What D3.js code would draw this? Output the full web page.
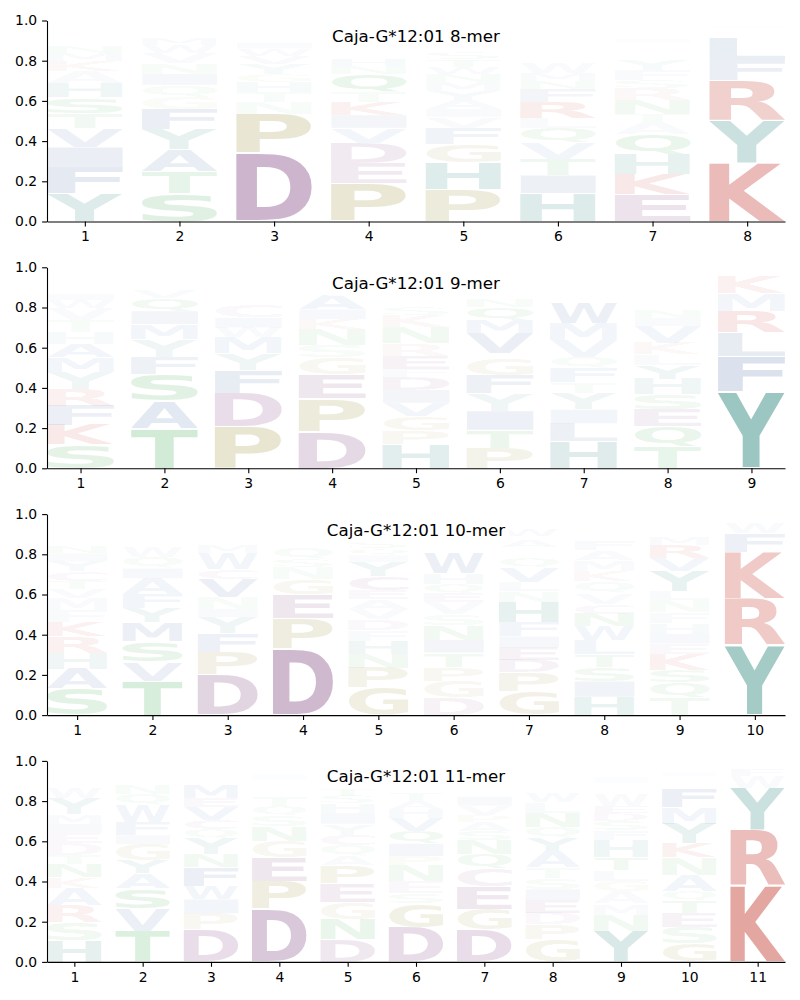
<!DOCTYPE html>
<html>
<head>
<meta charset="utf-8">
<script src="https://cdn.jsdelivr.net/npm/d3@7"></script>
<style>
  body { margin: 0; background: #fff; }
  svg { display: block; }
</style>
</head>
<body>
<svg id="chart" width="800" height="1000"></svg>
<script>
// panel titles
const titles = ['Caja-G*12:01 8-mer', 'Caja-G*12:01 9-mer', 'Caja-G*12:01 10-mer', 'Caja-G*12:01 11-mer'];

// letter heights per position, listed bottom -> top
const logo8 = [
  [['Y',.14],['F',.13],['I',.10],['V',.095],['T',.075],['S',.078],['H',.07],['A',.06],['K',.05],['M',.04],['N',.035],['W',.03],['R',.025],['Q',.02],['E',.015],['C',.012],['G',.02]],
  [['S',.14],['T',.11],['A',.11],['Y',.10],['F',.10],['G',.06],['Q',.06],['I',.055],['N',.055],['V',.05],['W',.04],['M',.035],['K',.025],['H',.02],['L',.015],['R',.012]],
  [['D',.34],['P',.195],['N',.06],['T',.05],['H',.05],['G',.04],['Y',.05],['V',.04],['W',.035],['I',.03],['F',.025],['S',.02],['E',.02],['Q',.015],['K',.012],['M',.01]],
  [['P',.19],['E',.10],['D',.10],['V',.075],['I',.065],['K',.065],['T',.05],['Q',.09],['N',.04],['H',.035],['L',.03],['F',.03],['A',.025],['S',.02],['G',.02],['Y',.015],['M',.01],['W',.02],['R',.015]],
  [['P',.16],['H',.135],['G',.09],['F',.08],['V',.055],['I',.04],['A',.045],['Y',.045],['M',.045],['N',.04],['W',.035],['T',.035],['S',.035],['Q',.03],['E',.03],['D',.025],['K',.025],['L',.02],['R',.02],['C',.01]],
  [['H',.14],['I',.09],['T',.08],['V',.08],['Q',.075],['L',.05],['R',.08],['F',.065],['N',.04],['M',.04],['W',.05],['Y',.03],['S',.03],['A',.025],['K',.025],['E',.02],['G',.02],['D',.015],['P',.01],['C',.015]],
  [['E',.135],['K',.10],['H',.10],['Q',.10],['A',.06],['T',.04],['N',.07],['R',.06],['S',.04],['F',.05],['Y',.05],['L',.03],['V',.03],['M',.025],['I',.02],['G',.02],['D',.015],['W',.01],['P',.02],['C',.01]],
  [['K',.29],['Y',.21],['R',.20],['F',.10],['L',.11],['W',.03],['M',.02],['I',.015],['V',.01]]
];

const logo9 = [
  [['S',.117],['K',.097],['F',.097],['R',.083],['Y',.083],['M',.075],['A',.065],['H',.06],['T',.06],['V',.06],['W',.04],['I',.03],['L',.03],['G',.02],['N',.02],['Q',.015],['E',.01],['D',.015],['C',.01]],
  [['T',.197],['A',.137],['S',.133],['F',.087],['Y',.088],['M',.075],['I',.065],['Q',.065],['V',.04],['H',.025],['G',.03],['L',.025],['N',.02],['W',.01]],
  [['P',.21],['D',.165],['F',.115],['Y',.08],['M',.08],['W',.05],['I',.05],['C',.06],['V',.03],['E',.025],['G',.025],['H',.02],['S',.02],['Q',.02],['N',.015],['T',.01],['A',.015]],
  [['D',.183],['P',.165],['E',.12],['G',.083],['S',.06],['N',.08],['K',.05],['I',.05],['A',.075],['M',.02],['Q',.02],['T',.02],['H',.015],['R',.015],['Y',.01],['V',.02],['L',.01]],
  [['H',.12],['P',.07],['G',.07],['V',.065],['I',.065],['D',.065],['F',.04],['E',.065],['R',.06],['N',.08],['K',.06],['S',.04],['T',.03],['Q',.03],['A',.03],['L',.025],['M',.02],['Y',.02],['W',.015],['C',.01]],
  [['P',.10],['T',.09],['I',.095],['Y',.087],['F',.09],['G',.08],['L',.03],['V',.10],['M',.065],['Q',.065],['N',.04],['S',.03],['H',.025],['A',.02],['W',.02],['K',.015],['E',.015],['D',.01]],
  [['H',.133],['L',.09],['I',.07],['Y',.08],['T',.055],['F',.07],['Q',.055],['V',.083],['M',.083],['W',.10],['N',.03],['S',.025],['A',.02],['K',.02],['R',.015],['G',.01],['E',.02],['P',.015],['C',.01]],
  [['T',.108],['Q',.10],['E',.083],['S',.075],['H',.078],['Y',.067],['L',.055],['K',.058],['V',.083],['I',.042],['N',.042],['R',.03],['M',.03],['A',.03],['F',.025],['G',.02],['D',.015],['W',.01],['P',.02],['C',.015]],
  [['Y',.383],['F',.175],['L',.117],['R',.108],['M',.088],['K',.088],['W',.02],['I',.01]]
];

const logo10 = [
  [['S',.13],['A',.10],['H',.08],['R',.08],['K',.07],['F',.06],['M',.06],['V',.045],['T',.04],['C',.05],['Y',.05],['I',.04],['N',.035],['L',.03],['Q',.025],['W',.025],['E',.02],['G',.02],['D',.015],['P',.01]],
  [['T',.17],['V',.095],['S',.10],['M',.095],['Y',.07],['F',.07],['A',.08],['I',.05],['Q',.055],['W',.05],['N',.03],['L',.03],['H',.025],['G',.025],['C',.02],['K',.015],['E',.01]],
  [['D',.20],['P',.113],['F',.095],['Y',.08],['I',.04],['N',.06],['V',.09],['C',.05],['W',.08],['M',.04],['Q',.03],['S',.03],['E',.025],['A',.02],['G',.015],['T',.01]],
  [['D',.33],['P',.15],['E',.12],['G',.075],['N',.06],['S',.04],['Q',.055],['T',.03],['H',.03],['V',.025],['A',.02],['L',.02],['K',.015],['I',.01]],
  [['G',.135],['P',.10],['N',.07],['H',.063],['F',.055],['D',.053],['V',.05],['A',.05],['E',.045],['C',.07],['Y',.07],['I',.035],['Q',.035],['S',.035],['T',.025],['K',.025],['L',.02],['M',.02],['W',.015],['R',.01]],
  [['D',.087],['G',.083],['P',.07],['T',.07],['I',.065],['N',.07],['S',.055],['V',.06],['E',.045],['Q',.045],['H',.055],['W',.10],['K',.03],['A',.03],['F',.025],['L',.02],['Y',.015],['R',.01],['M',.03],['C',.02]],
  [['G',.116],['P',.095],['D',.063],['E',.063],['I',.055],['F',.07],['H',.10],['N',.055],['L',.045],['V',.07],['Q',.045],['S',.03],['T',.03],['A',.035],['Y',.02],['W',.035],['K',.015],['M',.015],['R',.01],['C',.02]],
  [['H',.09],['I',.078],['S',.07],['T',.063],['L',.07],['W',.07],['N',.063],['C',.05],['V',.055],['Q',.055],['K',.05],['M',.055],['A',.05],['F',.045],['Y',.03],['G',.025],['E',.02],['D',.02],['R',.015],['P',.01]],
  [['T',.087],['Q',.075],['S',.063],['K',.08],['E',.05],['I',.05],['H',.053],['F',.055],['N',.06],['L',.045],['Y',.10],['V',.065],['R',.065],['M',.04],['A',.03],['W',.025],['G',.02],['D',.015],['P',.01]],
  [['Y',.35],['R',.23],['K',.23],['F',.095],['W',.05],['L',.02],['M',.01]]
];

const logo11 = [
  [['H',.108],['S',.088],['R',.083],['A',.088],['K',.055],['N',.063],['T',.046],['D',.06],['E',.05],['I',.046],['M',.046],['Y',.08],['W',.053],['Q',.03],['F',.03],['L',.025],['V',.02],['G',.015],['P',.01]],
  [['T',.154],['V',.113],['S',.10],['A',.075],['Y',.063],['G',.08],['I',.046],['F',.063],['W',.088],['Q',.055],['N',.046],['M',.03],['L',.025],['H',.02],['E',.015],['K',.01]],
  [['D',.163],['P',.078],['I',.07],['W',.065],['F',.096],['N',.063],['Y',.08],['Q',.046],['C',.046],['V',.063],['E',.046],['M',.063],['S',.03],['A',.02],['G',.015],['H',.01],['T',.02],['K',.015]],
  [['D',.262],['P',.14],['E',.12],['G',.08],['N',.075],['S',.053],['Q',.046],['T',.046],['H',.03],['A',.03],['V',.025],['I',.025],['K',.02],['L',.015],['Y',.01]],
  [['D',.113],['N',.10],['G',.086],['E',.09],['P',.09],['A',.046],['Q',.055],['C',.053],['Y',.055],['I',.053],['H',.046],['S',.04],['T',.035],['V',.03],['F',.025],['K',.025],['L',.02],['M',.015],['R',.01]],
  [['D',.17],['G',.12],['S',.05],['E',.06],['N',.08],['P',.046],['I',.063],['Q',.063],['V',.063],['H',.046],['A',.04],['T',.04],['F',.03],['L',.03],['Y',.025],['K',.02],['M',.02],['R',.015],['W',.01]],
  [['D',.163],['G',.10],['E',.113],['C',.088],['Q',.07],['N',.07],['S',.045],['A',.045],['P',.036],['V',.046],['I',.046],['T',.03],['H',.03],['L',.025],['F',.02],['K',.02],['Y',.015],['R',.01],['W',.015]],
  [['G',.113],['P',.073],['D',.058],['E',.063],['I',.055],['S',.055],['T',.055],['A',.08],['Y',.063],['Q',.055],['N',.071],['L',.055],['W',.046],['V',.03],['H',.025],['F',.025],['K',.02],['M',.015],['R',.01],['C',.02]],
  [['Y',.154],['N',.08],['M',.055],['A',.06],['G',.053],['L',.055],['T',.063],['H',.088],['F',.046],['S',.046],['D',.038],['E',.035],['W',.058],['K',.03],['Q',.03],['I',.025],['V',.02],['R',.015],['P',.01],['C',.02]],
  [['G',.09],['S',.083],['E',.07],['T',.063],['Q',.046],['A',.08],['N',.088],['K',.071],['Y',.096],['M',.08],['F',.096],['R',.03],['H',.03],['I',.025],['L',.02],['D',.015],['V',.01]],
  [['K',.378],['R',.277],['Y',.21],['W',.06],['F',.035],['L',.02],['M',.01]]
];

const panels = [logo8, logo9, logo10, logo11];

// colour groups
const purple = 'rgb(120,60,120)', olive = 'rgb(150,140,50)', red = 'rgb(190,40,30)',
      teal = 'rgb(20,120,110)', blue = 'rgb(60,100,160)', green = 'rgb(40,160,60)';
const aaColor = {
  D: purple, E: purple, C: purple,
  P: olive, G: olive,
  K: red, R: red,
  Y: teal, H: teal,
  A: blue, V: blue, L: blue, I: blue, M: blue, F: blue, W: blue,
  S: green, T: green, N: green, Q: green
};
// small letters fade out almost completely
const alpha = d3.scaleLinear().domain([0.015, 0.4]).range([0.005, 0.44]).clamp(true);

const svg = d3.select('#chart');
const left = 47, right = 785, top0 = 20.5, step = 246.8, ph = 201;
const letterFont = "'DejaVu Sans', sans-serif";

// ink extents of each glyph, measured once on a canvas
const ctx = document.createElement('canvas').getContext('2d');
ctx.font = `bold 100px ${letterFont}`;
const ink = {};
Object.keys(aaColor).forEach(aa => {
  const m = ctx.measureText(aa);
  ink[aa] = { l: m.actualBoundingBoxLeft, r: m.actualBoundingBoxRight,
              a: m.actualBoundingBoxAscent, d: m.actualBoundingBoxDescent };
});

panels.forEach((cols, i) => {
  const n = cols.length;
  const g = svg.append('g').attr('transform', `translate(0,${top0 + i * step})`);
  const x = d3.scaleLinear().domain([0.6, n + 0.4]).range([left, right]);
  const y = d3.scaleLinear().domain([0, 1]).range([ph, 0]);

  cols.forEach((col, j) => {
    let floor = 0;
    col.forEach(([aa, v]) => {
      const k = ink[aa];
      const x0 = x(j + 1 - 0.4), x1 = x(j + 1 + 0.4);
      const yTop = y(floor + v - v * 0.015), yBot = y(floor + v * 0.015);
      const sx = (x1 - x0) / (k.l + k.r), sy = (yBot - yTop) / (k.a + k.d);
      g.append('text')
        .attr('font-family', letterFont)
        .attr('font-weight', 'bold')
        .attr('font-size', 100)
        .attr('transform', `translate(${x0},${yTop}) scale(${sx},${sy}) translate(${k.l},${k.a})`)
        .attr('fill', aaColor[aa])
        .attr('fill-opacity', alpha(v))
        .text(aa);
      floor += v;
    });
  });

  // title with white box behind it
  const t = g.append('text')
    .attr('x', (left + right) / 2)
    .attr('y', 21.5)
    .attr('text-anchor', 'middle')
    .attr('font-family', "'DejaVu Sans', sans-serif")
    .attr('font-size', 16.67)
    .attr('fill', '#000')
    .text(titles[i]);
  const bb = t.node().getBBox();
  g.insert('rect', () => t.node())
    .attr('x', bb.x - 4).attr('y', bb.y - 3)
    .attr('width', bb.width + 8).attr('height', bb.height + 6)
    .attr('fill', '#fff');

  const yAxis = g.append('g')
    .attr('transform', `translate(${left},0)`)
    .call(d3.axisLeft(y).tickValues([0, .2, .4, .6, .8, 1]).tickFormat(d3.format('.1f'))
      .tickSize(4.9).tickPadding(4.9).tickSizeOuter(0));
  const xAxis = g.append('g')
    .attr('transform', `translate(0,${ph})`)
    .call(d3.axisBottom(x).tickValues(d3.range(1, n + 1)).tickFormat(d3.format('d'))
      .tickSize(4.9).tickPadding(4.9).tickSizeOuter(0));
  [yAxis, xAxis].forEach(a => {
    a.attr('font-family', "'DejaVu Sans', sans-serif").attr('font-size', 13.9);
    a.selectAll('path, line').attr('stroke', '#000').attr('stroke-width', 1.1);
    a.selectAll('text').attr('fill', '#000');
  });
});
</script>
</body>
</html>
